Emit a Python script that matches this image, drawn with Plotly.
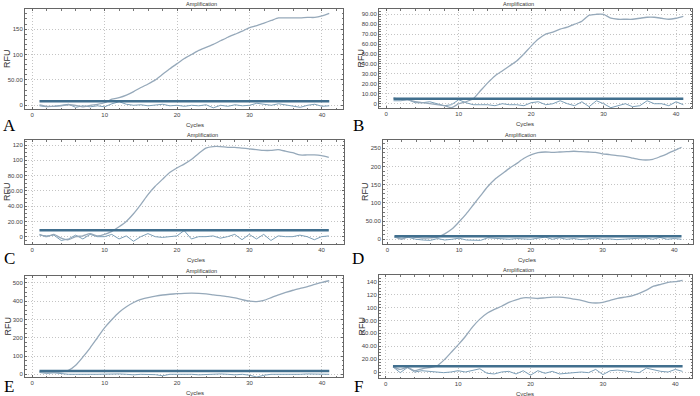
import plotly.graph_objects as go

cycles = list(range(1, 42))

amp_A = [1, -2, -2, -1, 1, 0, -3, 0, 2, 5, 12, 15, 20, 27, 35, 42, 50, 61, 72, 82, 92, 100, 108, 114, 120,
         127, 134, 140, 146, 153, 157, 162, 167, 172, 172, 172, 172, 173, 173, 176, 181]
neg_A = [-1, -3, -2, 0, 2, -4, -1, -3, -1, -3, 3, 7, 2, 0, 1, -1, 0, 2, -1, 0, -2, 0, -1, 1, -5,
         0, -2, 1, -1, 0, 4, 2, 0, 3, 1, -1, -4, 0, 2, -2, -1]
thr_A = 8

amp_B = [6, 4, 4, 2, 1, 0, -1, -2, -4, 0, 2, 5, 13, 21, 28, 33, 38, 43, 50, 58, 65, 70, 72, 75, 77,
         80, 83, 89, 90, 90, 86, 85, 85, 85, 86, 87, 87, 86, 85, 86, 88]
neg_B = [3, 3, 4, 1, 1, 2, 0, -2, -1, 4, 1, -1, -1, -1, -2, 0, -1, -1, -2, 1, 2, -1, 0, 3, 0,
         -2, 2, -3, 3, 0, -4, -2, 0, -3, -2, 3, 0, 0, -2, 2, -1]
thr_B = 5

amp_C = [3, 0, 3, -2, -4, 0, 1, 4, 1, 3, 7, 13, 20, 30, 42, 55, 66, 75, 84, 90, 95, 101, 109, 116, 118,
         118, 117, 117, 116, 115, 114, 113, 113, 114, 112, 110, 107, 107, 107, 106, 104]
neg_C = [2, 1, 2, -5, -3, 2, -3, 3, 0, 0, 3, -3, 1, -6, 0, 4, 0, -1, 0, 1, 8, -3, 0, 0, 1,
         -2, 0, 3, -4, 3, -3, 3, -5, 1, 0, 0, 2, 0, -4, 0, 1]
thr_C = 8.3

amp_D = [8, 0, 8, 5, 3, 4, 6, 15, 28, 48, 70, 95, 120, 145, 165, 180, 195, 208, 222, 232, 238, 240, 239, 240, 241,
         242, 241, 240, 239, 235, 233, 230, 228, 224, 220, 218, 220, 227, 235, 244, 253]
neg_D = [5, 3, 5, 0, -2, -3, 2, -2, 0, 3, -2, -3, -3, 4, 3, 1, 0, 2, 0, 0, 3, 6, 0, 4, 0,
         2, -1, 0, 3, 0, 1, -1, 0, 2, 3, 4, 0, 5, 0, 2, 0]
thr_D = 8

amp_E = [15, 12, 12, 14, 22, 50, 95, 145, 200, 255, 300, 340, 370, 393, 410, 420, 428, 434, 438, 441, 443, 444, 443, 440, 435,
         430, 425, 418, 408, 400, 398, 405, 420, 435, 448, 460, 470, 480, 492, 503, 512]
neg_E = [10, 5, 8, 3, 0, 0, 2, 0, 0, 1, -2, 2, 0, -3, 0, 0, -2, -8, 0, 0, 2, 0, -3, 0, 0,
         2, 0, -3, 0, -5, -15, -5, 0, 0, -3, 0, 0, 2, 0, 0, 0]
thr_E = 18

amp_F = [8, 4, 7, 2, 5, 7, 9, 18, 30, 42, 55, 70, 82, 91, 97, 102, 108, 112, 115, 115, 114, 115, 116, 116, 115,
         113, 111, 108, 107, 108, 111, 114, 116, 118, 122, 127, 133, 136, 139, 140, 142]
neg_F = [8, -1, 7, 0, 2, 1, 0, -1, 0, 2, 0, 3, 5, -2, -3, 0, 1, -3, 2, -5, 2, -2, 1, -3, -2,
         0, 0, -1, 4, -4, 2, 3, 2, 0, -1, 6, 3, 1, 0, 4, 1]
thr_F = 8.8

x_ticks = [0, 10, 20, 30, 40]
yt_A = [0, 50, 100, 150]
yl_A = ["0", "50.00", "100", "150"]
yt_B = [0, 10, 20, 30, 40, 50, 60, 70, 80, 90]
yl_B = ["0", "10.00", "20.00", "30.00", "40.00", "50.00", "60.00", "70.00", "80.00", "90.00"]
yt_C = [0, 20, 40, 60, 80, 100, 120]
yl_C = ["0", "20.00", "40.00", "60.00", "80.00", "100", "120"]
yt_D = [0, 50, 100, 150, 200, 250]
yl_D = ["0", "50.00", "100", "150", "200", "250"]
yt_E = [0, 100, 200, 300, 400, 500]
yl_E = ["0", "100", "200", "300", "400", "500"]
yt_F = [0, 20, 40, 60, 80, 100, 120, 140]
yl_F = ["0", "20.00", "40.00", "60.00", "80.00", "100", "120", "140"]
letters = ["A", "B", "C", "D", "E", "F"]

W, H = 700, 396
panels = [
    (amp_A, neg_A, thr_A, yt_A, yl_A, (25, 343, 9, 109), [-1.0, 42.9], [-7.3, 189.6], 10, (9, 126)),
    (amp_B, neg_B, thr_B, yt_B, yl_B, (379, 692, 9, 108), [-1.0, 42.2], [-4.3, 95.3], 2.5, (358, 126)),
    (amp_C, neg_C, thr_C, yt_C, yl_C, (25, 344, 140, 244), [-1.0, 43.1], [-9.6, 126.6], 5, (9, 258)),
    (amp_D, neg_D, thr_D, yt_D, yl_D, (383, 693, 140, 244), [-0.6, 42.6], [-13, 273], 12.5, (358, 258)),
    (amp_E, neg_E, thr_E, yt_E, yl_E, (25, 343, 276, 377), [-1.0, 42.9], [-14.8, 538], 25, (9, 386)),
    (amp_F, neg_F, thr_F, yt_F, yl_F, (379, 692, 275, 378), [-0.93, 42.3], [-9.3, 150.4], 5, (358, 386)),
]

fig = go.Figure()
layout = dict(width=W, height=H, margin=dict(l=0, r=0, t=0, b=0, autoexpand=False), showlegend=False,
              paper_bgcolor="white", plot_bgcolor="white", annotations=[])

amp_col = "#96a9ba"
neg_col = "#7c9fb8"
thr_col = "#416f8e"
font_fam = "Liberation Sans"

for i, (amp, neg, thr, yt, yl, box, xr, yr, ymin, lpos) in enumerate(panels):
    n = "" if i == 0 else str(i + 1)
    xa, ya = "x" + n, "y" + n
    x0, x1, y0, y1 = box
    fig.add_trace(go.Scatter(x=cycles, y=neg, mode="lines", line=dict(color=neg_col, width=1),
                             xaxis=xa, yaxis=ya))
    fig.add_trace(go.Scatter(x=cycles, y=amp, mode="lines",
                             line=dict(color=amp_col, width=1.3, shape="spline", smoothing=0.6),
                             xaxis=xa, yaxis=ya))
    fig.add_trace(go.Scatter(x=[cycles[0], cycles[-1]], y=[thr, thr], mode="lines",
                             line=dict(color=thr_col, width=2.5), xaxis=xa, yaxis=ya))
    common = dict(showline=True, linecolor="#666", linewidth=1, mirror="ticks", automargin=False,
                  ticks="inside", ticklen=2, tickcolor="#666",
                  showgrid=True, gridcolor="#c4c4c4", griddash="1px,2px", gridwidth=1,
                  zeroline=False, tickfont=dict(family=font_fam, size=6, color="#444"))
    layout["xaxis" + n] = dict(common, domain=[x0 / W, x1 / W], range=xr, anchor=ya,
                               tickvals=x_ticks, ticktext=[str(v) for v in x_ticks],
                               minor=dict(dtick=2, ticks="inside", ticklen=1.5, tickcolor="#777", showgrid=False))
    layout["yaxis" + n] = dict(common, domain=[1 - y1 / H, 1 - y0 / H], range=yr, anchor=xa,
                               tickvals=yt, ticktext=yl,
                               minor=dict(dtick=ymin, ticks="inside", ticklen=1.5, tickcolor="#777", showgrid=False))
    layout["annotations"].append(dict(text="Amplification", xref="paper", yref="paper",
                                      x=(x0 + x1) / 2 / W, y=1 - (y0 - 5) / H, showarrow=False,
                                      yanchor="middle",
                                      font=dict(family=font_fam, size=5.5, color="#333")))
    layout["annotations"].append(dict(text="Cycles", xref="paper", yref="paper",
                                      x=(x0 + x1) / 2 / W, y=1 - (y1 + 16) / H, showarrow=False,
                                      yanchor="middle",
                                      font=dict(family=font_fam, size=6, color="#333")))
    layout["annotations"].append(dict(text="RFU", xref="paper", yref="paper", textangle=-90,
                                      x=(x0 - 18) / W, y=1 - (y0 + y1) / 2 / H,
                                      showarrow=False, xanchor="center", yanchor="middle",
                                      font=dict(family=font_fam, size=9, color="#333")))
    layout["annotations"].append(dict(text=letters[i], xref="paper", yref="paper",
                                      x=lpos[0] / W, y=1 - lpos[1] / H, showarrow=False,
                                      xanchor="center", yanchor="middle",
                                      font=dict(family="Liberation Serif", size=17, color="black")))

fig.update_layout(**layout)
fig.write_html("out.html", config={"displayModeBar": False},
               post_script="document.body.style.margin='0';document.body.style.overflow='hidden';")
